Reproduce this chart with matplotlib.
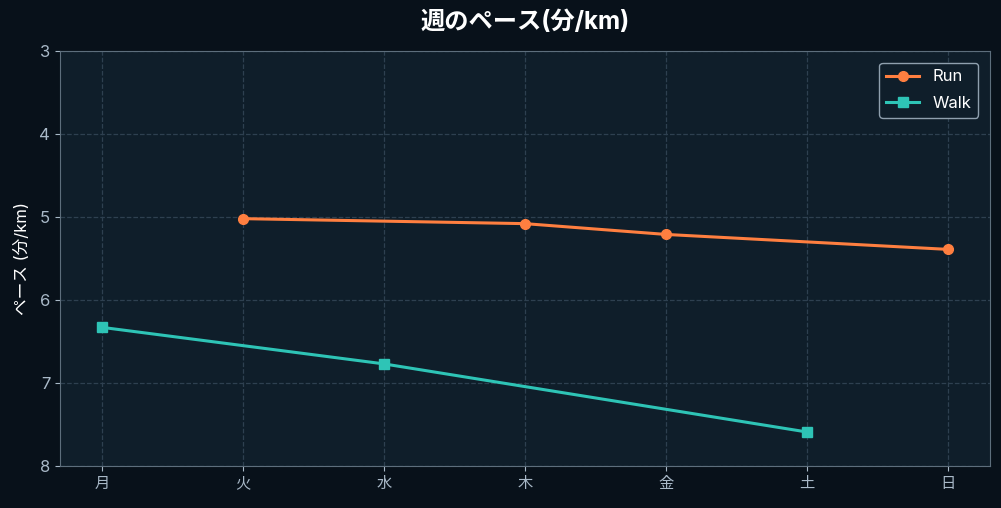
import matplotlib
matplotlib.use('Agg')
import matplotlib.pyplot as plt

plt.rcParams['font.family'] = ['Inter', 'Noto Sans CJK JP', 'DejaVu Sans']

# 曜日とペース (分/km)
days = ['月', '火', '水', '木', '金', '土', '日']
run_days = [1, 3, 4, 6]
run_pace = [5.02, 5.08, 5.21, 5.39]
walk_days = [0, 2, 5]
walk_pace = [6.33, 6.77, 7.59]

fig_bg = '#08111a'
ax_bg = '#0f1e2a'
text_col = '#a9b9c8'
spine_col = '#5d6e7c'

fig = plt.figure(figsize=(10.01, 5.08), dpi=100, facecolor=fig_bg)
ax = fig.add_axes([60 / 1001, 42 / 508, 930 / 1001, 415 / 508])
ax.set_facecolor(ax_bg)

ax.plot(run_days, run_pace, color='#ff7f40', linewidth=2.2, marker='o', markersize=7, label='Run')
ax.plot(walk_days, walk_pace, color='#2ec4b6', linewidth=2.2, marker='s', markersize=7, label='Walk')

ax.set_xlim(-0.3, 6.3)
ax.set_ylim(8, 3)
ax.set_xticks(range(len(days)))
ax.set_xticklabels(days)
ax.set_yticks([3, 4, 5, 6, 7, 8])

ax.grid(True, color='#2e4050', linestyle='--', linewidth=0.9)
ax.tick_params(colors=text_col, labelsize=12)
ax.tick_params(axis='x', labelsize=11)
for s in ax.spines.values():
    s.set_color(spine_col)

ax.set_ylabel('ペース (分/km)', color='white', fontsize=12, labelpad=7)
ax.set_title('週のペース(分/km)', color='white', fontsize=17.5, fontweight='bold', pad=16)

leg = ax.legend(loc='upper right', facecolor=ax_bg, edgecolor='#8fa0ae', fontsize=12,
                framealpha=1, labelspacing=0.7, borderaxespad=0.7)
for t in leg.get_texts():
    t.set_color('white')

fig.savefig('out.png', dpi=100, facecolor=fig_bg)
